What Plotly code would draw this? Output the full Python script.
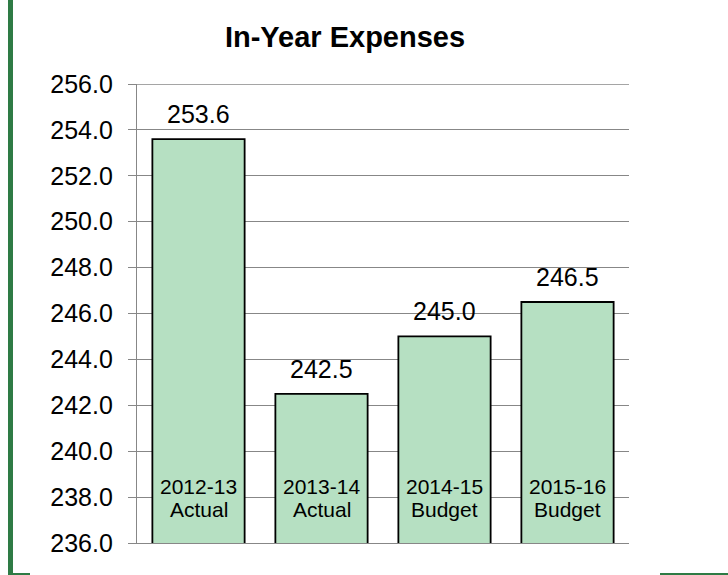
import plotly.graph_objects as go

# Chart data
periods = ["2012-13", "2013-14", "2014-15", "2015-16"]
kinds = ["Actual", "Actual", "Budget", "Budget"]
expenses = [253.6, 242.5, 245.0, 246.5]

y_min, y_max, y_step = 236.0, 256.0, 2.0

FONT = "Liberation Sans, Arial, sans-serif"
GRID = "#878787"
GREEN = "#2e7b45"

fig = go.Figure()

fig.add_trace(go.Bar(
    x=periods,
    y=expenses,
    marker=dict(color="#b6e0c2", line=dict(color="#000000", width=1.8)),
    hoverinfo="skip",
))

annotations = []
# value labels above each bar
for p, v in zip(periods, expenses):
    annotations.append(dict(
        x=p, y=v, xref="x", yref="y", text=f"{v:.1f}", showarrow=False,
        yanchor="middle", yshift=25, font=dict(family=FONT, size=25, color="#000"),
    ))
# two-line category labels at the base of each bar
for p, k in zip(periods, kinds):
    annotations.append(dict(
        x=p, y=y_min, xref="x", yref="y", text=p, showarrow=False,
        yanchor="middle", yshift=57, font=dict(family=FONT, size=21, color="#000"),
    ))
    annotations.append(dict(
        x=p, y=y_min, xref="x", yref="y", text=k, showarrow=False,
        yanchor="middle", yshift=34, font=dict(family=FONT, size=21, color="#000"),
    ))

# plot area geometry in pixels (for the decorative frame)
L, R, T, B = 137, 629, 84, 543
W, H = 728, 575
def px_x(px):
    return (px - L) / (R - L)
def px_y(py):
    return (B - py) / (B - T)

shapes = [
    # top gridline at the upper end of the value range
    dict(type="line", xref="paper", yref="y", x0=0, x1=1, y0=y_max, y1=y_max,
         line=dict(color=GRID, width=1.3), layer="below"),
    # dark green frame pieces
    dict(type="rect", xref="paper", yref="paper",
         x0=px_x(8), x1=px_x(13), y0=px_y(H), y1=px_y(0),
         fillcolor=GREEN, line=dict(width=0), layer="above"),
    dict(type="rect", xref="paper", yref="paper",
         x0=px_x(8), x1=px_x(30), y0=px_y(H), y1=px_y(H - 2),
         fillcolor=GREEN, line=dict(width=0), layer="above"),
    dict(type="rect", xref="paper", yref="paper",
         x0=px_x(660), x1=px_x(W), y0=px_y(H), y1=px_y(H - 2),
         fillcolor=GREEN, line=dict(width=0), layer="above"),
]

fig.update_layout(
    width=W, height=H,
    margin=dict(l=L, r=W - R, t=T, b=H - B, pad=0),
    paper_bgcolor="white", plot_bgcolor="white",
    showlegend=False,
    bargap=0.25,
    font=dict(family=FONT, color="#000"),
    title=dict(
        text="<b>In-Year Expenses</b>",
        x=345 / W, xanchor="center", xref="container",
        y=1 - 37 / H, yanchor="middle", yref="container",
        font=dict(family=FONT, size=29, color="#000"),
    ),
    annotations=annotations,
    shapes=shapes,
)

fig.update_yaxes(
    range=[y_min, y_max], dtick=y_step, tick0=y_min, tickformat=".1f",
    showgrid=True, gridcolor=GRID, gridwidth=1.3,
    showline=True, linecolor=GRID, linewidth=1.3,
    ticks="outside", ticklen=8, tickcolor=GRID, tickwidth=1.3,
    ticklabelstandoff=10,
    tickfont=dict(family=FONT, size=25, color="#000"),
    zeroline=False,
)
fig.update_xaxes(
    showticklabels=False, ticks="", showgrid=False,
    showline=True, linecolor=GRID, linewidth=1.3,
    zeroline=False, range=[-0.5, 3.5],
)

fig.write_html("out.html")
